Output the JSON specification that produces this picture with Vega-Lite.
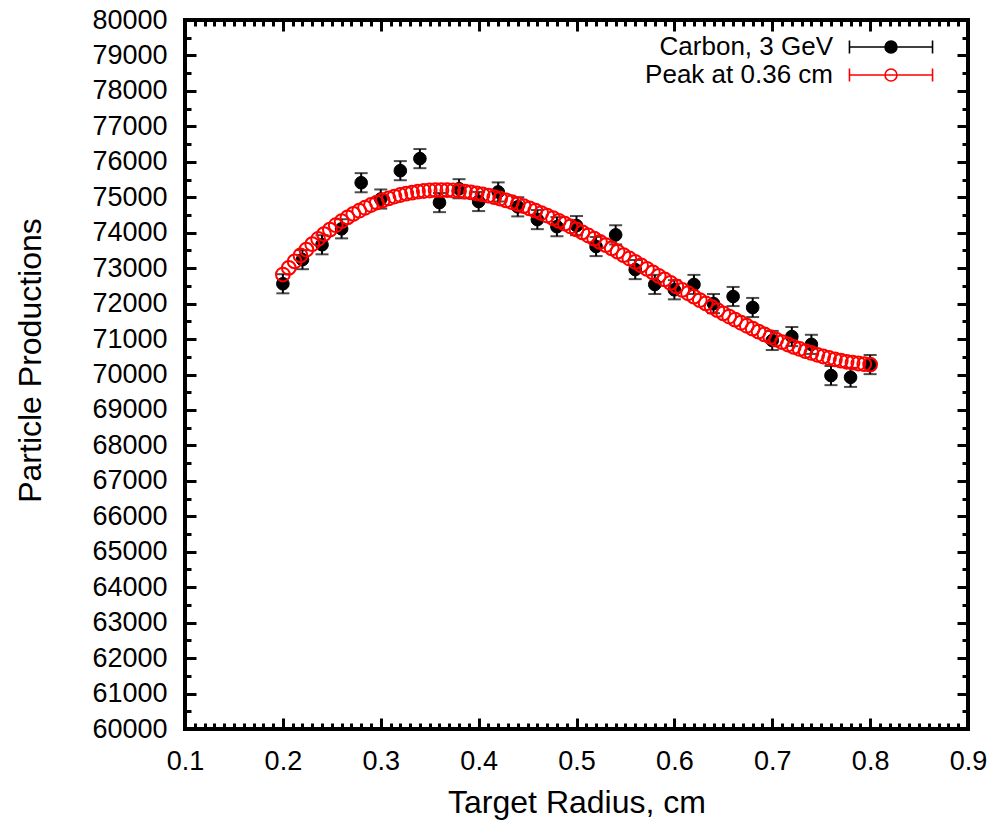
{
  "$schema": "https://vega.github.io/schema/vega-lite/v6.json",
  "width": 783,
  "height": 709,
  "autosize": {"type": "none"},
  "padding": {"left": 185, "top": 20, "right": 39, "bottom": 91},
  "background": "white",
  "config": {
    "view": {"stroke": "black", "strokeWidth": 4},
    "font": "Liberation Sans",
    "axis": {
      "domain": false,
      "grid": false,
      "labelFont": "Liberation Sans",
      "titleFont": "Liberation Sans",
      "labelFontSize": 27,
      "titleFontSize": 32,
      "titleFontWeight": "normal",
      "labelColor": "black",
      "titleColor": "black",
      "tickColor": "black",
      "tickWidth": 3,
      "labelFlush": false,
      "labelOverlap": false,
      "labelBound": false
    },
    "legend": {
      "labelFont": "Liberation Sans",
      "labelFontSize": 26,
      "labelColor": "black",
      "labelLimit": 0
    }
  },
  "datasets": {
    "carbon": [
      {"x": 0.20, "y": 72560, "err": 270, "series": "Carbon, 3 GeV"},
      {"x": 0.22, "y": 73240, "err": 270, "series": "Carbon, 3 GeV"},
      {"x": 0.24, "y": 73660, "err": 270, "series": "Carbon, 3 GeV"},
      {"x": 0.26, "y": 74110, "err": 270, "series": "Carbon, 3 GeV"},
      {"x": 0.28, "y": 75410, "err": 270, "series": "Carbon, 3 GeV"},
      {"x": 0.30, "y": 74950, "err": 270, "series": "Carbon, 3 GeV"},
      {"x": 0.32, "y": 75750, "err": 270, "series": "Carbon, 3 GeV"},
      {"x": 0.34, "y": 76090, "err": 270, "series": "Carbon, 3 GeV"},
      {"x": 0.36, "y": 74850, "err": 270, "series": "Carbon, 3 GeV"},
      {"x": 0.38, "y": 75240, "err": 270, "series": "Carbon, 3 GeV"},
      {"x": 0.40, "y": 74880, "err": 270, "series": "Carbon, 3 GeV"},
      {"x": 0.42, "y": 75150, "err": 270, "series": "Carbon, 3 GeV"},
      {"x": 0.44, "y": 74730, "err": 270, "series": "Carbon, 3 GeV"},
      {"x": 0.46, "y": 74370, "err": 270, "series": "Carbon, 3 GeV"},
      {"x": 0.48, "y": 74170, "err": 270, "series": "Carbon, 3 GeV"},
      {"x": 0.50, "y": 74200, "err": 270, "series": "Carbon, 3 GeV"},
      {"x": 0.52, "y": 73610, "err": 270, "series": "Carbon, 3 GeV"},
      {"x": 0.54, "y": 73940, "err": 270, "series": "Carbon, 3 GeV"},
      {"x": 0.56, "y": 72960, "err": 270, "series": "Carbon, 3 GeV"},
      {"x": 0.58, "y": 72540, "err": 270, "series": "Carbon, 3 GeV"},
      {"x": 0.60, "y": 72390, "err": 270, "series": "Carbon, 3 GeV"},
      {"x": 0.62, "y": 72540, "err": 270, "series": "Carbon, 3 GeV"},
      {"x": 0.64, "y": 72000, "err": 270, "series": "Carbon, 3 GeV"},
      {"x": 0.66, "y": 72200, "err": 270, "series": "Carbon, 3 GeV"},
      {"x": 0.68, "y": 71890, "err": 270, "series": "Carbon, 3 GeV"},
      {"x": 0.70, "y": 70960, "err": 270, "series": "Carbon, 3 GeV"},
      {"x": 0.72, "y": 71070, "err": 270, "series": "Carbon, 3 GeV"},
      {"x": 0.74, "y": 70850, "err": 270, "series": "Carbon, 3 GeV"},
      {"x": 0.76, "y": 69970, "err": 270, "series": "Carbon, 3 GeV"},
      {"x": 0.78, "y": 69920, "err": 270, "series": "Carbon, 3 GeV"},
      {"x": 0.80, "y": 70280, "err": 270, "series": "Carbon, 3 GeV"}
    ],
    "fit": [
      {"x": 0.2, "y": 72820, "series": "Peak at 0.36 cm"},
      {"x": 0.206, "y": 73009, "series": "Peak at 0.36 cm"},
      {"x": 0.212, "y": 73189, "series": "Peak at 0.36 cm"},
      {"x": 0.218, "y": 73360, "series": "Peak at 0.36 cm"},
      {"x": 0.224, "y": 73523, "series": "Peak at 0.36 cm"},
      {"x": 0.23, "y": 73677, "series": "Peak at 0.36 cm"},
      {"x": 0.236, "y": 73822, "series": "Peak at 0.36 cm"},
      {"x": 0.242, "y": 73960, "series": "Peak at 0.36 cm"},
      {"x": 0.248, "y": 74089, "series": "Peak at 0.36 cm"},
      {"x": 0.254, "y": 74211, "series": "Peak at 0.36 cm"},
      {"x": 0.26, "y": 74324, "series": "Peak at 0.36 cm"},
      {"x": 0.266, "y": 74430, "series": "Peak at 0.36 cm"},
      {"x": 0.272, "y": 74529, "series": "Peak at 0.36 cm"},
      {"x": 0.278, "y": 74620, "series": "Peak at 0.36 cm"},
      {"x": 0.284, "y": 74704, "series": "Peak at 0.36 cm"},
      {"x": 0.29, "y": 74781, "series": "Peak at 0.36 cm"},
      {"x": 0.296, "y": 74851, "series": "Peak at 0.36 cm"},
      {"x": 0.302, "y": 74913, "series": "Peak at 0.36 cm"},
      {"x": 0.308, "y": 74970, "series": "Peak at 0.36 cm"},
      {"x": 0.314, "y": 75020, "series": "Peak at 0.36 cm"},
      {"x": 0.32, "y": 75063, "series": "Peak at 0.36 cm"},
      {"x": 0.326, "y": 75100, "series": "Peak at 0.36 cm"},
      {"x": 0.332, "y": 75132, "series": "Peak at 0.36 cm"},
      {"x": 0.338, "y": 75157, "series": "Peak at 0.36 cm"},
      {"x": 0.344, "y": 75176, "series": "Peak at 0.36 cm"},
      {"x": 0.35, "y": 75190, "series": "Peak at 0.36 cm"},
      {"x": 0.356, "y": 75198, "series": "Peak at 0.36 cm"},
      {"x": 0.362, "y": 75200, "series": "Peak at 0.36 cm"},
      {"x": 0.368, "y": 75198, "series": "Peak at 0.36 cm"},
      {"x": 0.374, "y": 75190, "series": "Peak at 0.36 cm"},
      {"x": 0.38, "y": 75177, "series": "Peak at 0.36 cm"},
      {"x": 0.386, "y": 75160, "series": "Peak at 0.36 cm"},
      {"x": 0.392, "y": 75138, "series": "Peak at 0.36 cm"},
      {"x": 0.398, "y": 75111, "series": "Peak at 0.36 cm"},
      {"x": 0.404, "y": 75079, "series": "Peak at 0.36 cm"},
      {"x": 0.41, "y": 75044, "series": "Peak at 0.36 cm"},
      {"x": 0.416, "y": 75004, "series": "Peak at 0.36 cm"},
      {"x": 0.422, "y": 74961, "series": "Peak at 0.36 cm"},
      {"x": 0.428, "y": 74913, "series": "Peak at 0.36 cm"},
      {"x": 0.434, "y": 74862, "series": "Peak at 0.36 cm"},
      {"x": 0.44, "y": 74807, "series": "Peak at 0.36 cm"},
      {"x": 0.446, "y": 74749, "series": "Peak at 0.36 cm"},
      {"x": 0.452, "y": 74687, "series": "Peak at 0.36 cm"},
      {"x": 0.458, "y": 74623, "series": "Peak at 0.36 cm"},
      {"x": 0.464, "y": 74555, "series": "Peak at 0.36 cm"},
      {"x": 0.47, "y": 74484, "series": "Peak at 0.36 cm"},
      {"x": 0.476, "y": 74411, "series": "Peak at 0.36 cm"},
      {"x": 0.482, "y": 74335, "series": "Peak at 0.36 cm"},
      {"x": 0.488, "y": 74257, "series": "Peak at 0.36 cm"},
      {"x": 0.494, "y": 74176, "series": "Peak at 0.36 cm"},
      {"x": 0.5, "y": 74093, "series": "Peak at 0.36 cm"},
      {"x": 0.506, "y": 74008, "series": "Peak at 0.36 cm"},
      {"x": 0.512, "y": 73921, "series": "Peak at 0.36 cm"},
      {"x": 0.518, "y": 73833, "series": "Peak at 0.36 cm"},
      {"x": 0.524, "y": 73742, "series": "Peak at 0.36 cm"},
      {"x": 0.53, "y": 73651, "series": "Peak at 0.36 cm"},
      {"x": 0.536, "y": 73558, "series": "Peak at 0.36 cm"},
      {"x": 0.542, "y": 73464, "series": "Peak at 0.36 cm"},
      {"x": 0.548, "y": 73368, "series": "Peak at 0.36 cm"},
      {"x": 0.554, "y": 73272, "series": "Peak at 0.36 cm"},
      {"x": 0.56, "y": 73175, "series": "Peak at 0.36 cm"},
      {"x": 0.566, "y": 73078, "series": "Peak at 0.36 cm"},
      {"x": 0.572, "y": 72980, "series": "Peak at 0.36 cm"},
      {"x": 0.578, "y": 72881, "series": "Peak at 0.36 cm"},
      {"x": 0.584, "y": 72783, "series": "Peak at 0.36 cm"},
      {"x": 0.59, "y": 72684, "series": "Peak at 0.36 cm"},
      {"x": 0.596, "y": 72586, "series": "Peak at 0.36 cm"},
      {"x": 0.602, "y": 72487, "series": "Peak at 0.36 cm"},
      {"x": 0.608, "y": 72389, "series": "Peak at 0.36 cm"},
      {"x": 0.614, "y": 72292, "series": "Peak at 0.36 cm"},
      {"x": 0.62, "y": 72195, "series": "Peak at 0.36 cm"},
      {"x": 0.626, "y": 72099, "series": "Peak at 0.36 cm"},
      {"x": 0.632, "y": 72004, "series": "Peak at 0.36 cm"},
      {"x": 0.638, "y": 71909, "series": "Peak at 0.36 cm"},
      {"x": 0.644, "y": 71816, "series": "Peak at 0.36 cm"},
      {"x": 0.65, "y": 71725, "series": "Peak at 0.36 cm"},
      {"x": 0.656, "y": 71635, "series": "Peak at 0.36 cm"},
      {"x": 0.662, "y": 71546, "series": "Peak at 0.36 cm"},
      {"x": 0.668, "y": 71460, "series": "Peak at 0.36 cm"},
      {"x": 0.674, "y": 71375, "series": "Peak at 0.36 cm"},
      {"x": 0.68, "y": 71292, "series": "Peak at 0.36 cm"},
      {"x": 0.686, "y": 71211, "series": "Peak at 0.36 cm"},
      {"x": 0.692, "y": 71133, "series": "Peak at 0.36 cm"},
      {"x": 0.698, "y": 71057, "series": "Peak at 0.36 cm"},
      {"x": 0.704, "y": 70984, "series": "Peak at 0.36 cm"},
      {"x": 0.71, "y": 70913, "series": "Peak at 0.36 cm"},
      {"x": 0.716, "y": 70846, "series": "Peak at 0.36 cm"},
      {"x": 0.722, "y": 70781, "series": "Peak at 0.36 cm"},
      {"x": 0.728, "y": 70720, "series": "Peak at 0.36 cm"},
      {"x": 0.734, "y": 70661, "series": "Peak at 0.36 cm"},
      {"x": 0.74, "y": 70607, "series": "Peak at 0.36 cm"},
      {"x": 0.746, "y": 70556, "series": "Peak at 0.36 cm"},
      {"x": 0.752, "y": 70508, "series": "Peak at 0.36 cm"},
      {"x": 0.758, "y": 70465, "series": "Peak at 0.36 cm"},
      {"x": 0.764, "y": 70425, "series": "Peak at 0.36 cm"},
      {"x": 0.77, "y": 70390, "series": "Peak at 0.36 cm"},
      {"x": 0.776, "y": 70359, "series": "Peak at 0.36 cm"},
      {"x": 0.782, "y": 70332, "series": "Peak at 0.36 cm"},
      {"x": 0.788, "y": 70310, "series": "Peak at 0.36 cm"},
      {"x": 0.794, "y": 70293, "series": "Peak at 0.36 cm"},
      {"x": 0.8, "y": 70280, "series": "Peak at 0.36 cm"}
    ]
  },
  "layer": [
    {
      "layer": [
        {
          "data": {"name": "carbon"},
          "mark": {"type": "errorbar", "color": "black", "thickness": 2, "ticks": {"size": 13, "thickness": 2}},
          "encoding": {
            "x": {
              "field": "x", "type": "quantitative", "title": "Target Radius, cm",
              "scale": {"domain": [0.1, 0.9], "nice": false, "zero": false},
              "axis": {
                "orient": "bottom",
                "values": [0.1,0.11,0.12,0.13,0.14,0.15,0.16,0.17,0.18,0.19,0.2,0.21,0.22,0.23,0.24,0.25,0.26,0.27,0.28,0.29,0.3,0.31,0.32,0.33,0.34,0.35,0.36,0.37,0.38,0.39,0.4,0.41,0.42,0.43,0.44,0.45,0.46,0.47,0.48,0.49,0.5,0.51,0.52,0.53,0.54,0.55,0.56,0.57,0.58,0.59,0.6,0.61,0.62,0.63,0.64,0.65,0.66,0.67,0.68,0.69,0.7,0.71,0.72,0.73,0.74,0.75,0.76,0.77,0.78,0.79,0.8,0.81,0.82,0.83,0.84,0.85,0.86,0.87,0.88,0.89,0.9],
                "format": ".1f",
                "labelExpr": "abs(datum.value*10-round(datum.value*10))<0.000001 ? datum.label : ''",
                "labelOverlap": false,
                "labelFlush": false,
                "tickSize": {"condition": {"test": "abs(datum.value*10-round(datum.value*10))<0.000001", "value": -11}, "value": -6},
                "labelPadding": 30,
                "titlePadding": 8
              }
            },
            "y": {
              "field": "y", "type": "quantitative", "title": "Particle Productions",
              "scale": {"domain": [60000, 80000], "nice": false, "zero": false},
              "axis": {
                "orient": "left",
                "values": [60000,60500,61000,61500,62000,62500,63000,63500,64000,64500,65000,65500,66000,66500,67000,67500,68000,68500,69000,69500,70000,70500,71000,71500,72000,72500,73000,73500,74000,74500,75000,75500,76000,76500,77000,77500,78000,78500,79000,79500,80000],
                "format": "d",
                "labelExpr": "datum.value % 1000 == 0 ? datum.label : ''",
                "labelOverlap": false,
                "labelFlush": false,
                "tickSize": {"condition": {"test": "datum.value % 1000 == 0", "value": -11}, "value": -6},
                "labelPadding": 29,
                "titlePadding": 44,
                "titleY": 340
              }
            },
            "yError": {"field": "err"}
          }
        },
        {
          "data": {"name": "carbon"},
          "mark": {"type": "point", "filled": true, "size": 160, "opacity": 1, "strokeWidth": 1},
          "encoding": {
            "x": {
              "field": "x", "type": "quantitative", "title": "Target Radius, cm",
              "scale": {"domain": [0.1, 0.9], "nice": false, "zero": false},
              "axis": {
                "orient": "bottom",
                "values": [0.1,0.11,0.12,0.13,0.14,0.15,0.16,0.17,0.18,0.19,0.2,0.21,0.22,0.23,0.24,0.25,0.26,0.27,0.28,0.29,0.3,0.31,0.32,0.33,0.34,0.35,0.36,0.37,0.38,0.39,0.4,0.41,0.42,0.43,0.44,0.45,0.46,0.47,0.48,0.49,0.5,0.51,0.52,0.53,0.54,0.55,0.56,0.57,0.58,0.59,0.6,0.61,0.62,0.63,0.64,0.65,0.66,0.67,0.68,0.69,0.7,0.71,0.72,0.73,0.74,0.75,0.76,0.77,0.78,0.79,0.8,0.81,0.82,0.83,0.84,0.85,0.86,0.87,0.88,0.89,0.9],
                "format": ".1f",
                "labelExpr": "abs(datum.value*10-round(datum.value*10))<0.000001 ? datum.label : ''",
                "labelOverlap": false,
                "labelFlush": false,
                "tickSize": {"condition": {"test": "abs(datum.value*10-round(datum.value*10))<0.000001", "value": -11}, "value": -6},
                "labelPadding": 30,
                "titlePadding": 8
              }
            },
            "y": {
              "field": "y", "type": "quantitative", "title": "Particle Productions",
              "scale": {"domain": [60000, 80000], "nice": false, "zero": false},
              "axis": {
                "orient": "left",
                "values": [60000,60500,61000,61500,62000,62500,63000,63500,64000,64500,65000,65500,66000,66500,67000,67500,68000,68500,69000,69500,70000,70500,71000,71500,72000,72500,73000,73500,74000,74500,75000,75500,76000,76500,77000,77500,78000,78500,79000,79500,80000],
                "format": "d",
                "labelExpr": "datum.value % 1000 == 0 ? datum.label : ''",
                "labelOverlap": false,
                "labelFlush": false,
                "tickSize": {"condition": {"test": "datum.value % 1000 == 0", "value": -11}, "value": -6},
                "labelPadding": 29,
                "titlePadding": 44,
                "titleY": 340
              }
            },
            "fill": {
              "field": "series", "type": "nominal",
              "scale": {"domain": ["Carbon, 3 GeV", "Peak at 0.36 cm"], "range": ["black", "white"]},
              "legend": {
                "orient": "none",
                "legendX": 693,
                "legendY": 14,
                "title": null,
                "padding": 0,
                "symbolType": "M-5,-0.78V0.78M-5,0H5M5,-0.78V0.78M0.72,0A0.72,0.72 0 1 1 -0.72,0A0.72,0.72 0 1 1 0.72,0Z",
                "symbolSize": 276,
                "symbolStrokeWidth": 1.6,
                "labelAlign": "right",
                "labelOffset": -71,
                "rowPadding": 2
              }
            },
            "stroke": {
              "field": "series", "type": "nominal",
              "scale": {"domain": ["Carbon, 3 GeV", "Peak at 0.36 cm"], "range": ["black", "#ff0000"]},
              "legend": {
                "orient": "none",
                "legendX": 693,
                "legendY": 14,
                "title": null,
                "padding": 0,
                "symbolType": "M-5,-0.78V0.78M-5,0H5M5,-0.78V0.78M0.72,0A0.72,0.72 0 1 1 -0.72,0A0.72,0.72 0 1 1 0.72,0Z",
                "symbolSize": 276,
                "symbolStrokeWidth": 1.6,
                "labelAlign": "right",
                "labelOffset": -71,
                "rowPadding": 2
              }
            }
          }
        }
      ]
    },
    {
      "data": {"name": "fit"},
      "mark": {"type": "point", "filled": false, "size": 190, "strokeWidth": 2, "opacity": 1},
      "encoding": {
        "x": {
          "field": "x", "type": "quantitative",
          "scale": {"domain": [0.1, 0.9], "nice": false, "zero": false},
          "axis": {
            "orient": "top",
            "values": [0.1,0.11,0.12,0.13,0.14,0.15,0.16,0.17,0.18,0.19,0.2,0.21,0.22,0.23,0.24,0.25,0.26,0.27,0.28,0.29,0.3,0.31,0.32,0.33,0.34,0.35,0.36,0.37,0.38,0.39,0.4,0.41,0.42,0.43,0.44,0.45,0.46,0.47,0.48,0.49,0.5,0.51,0.52,0.53,0.54,0.55,0.56,0.57,0.58,0.59,0.6,0.61,0.62,0.63,0.64,0.65,0.66,0.67,0.68,0.69,0.7,0.71,0.72,0.73,0.74,0.75,0.76,0.77,0.78,0.79,0.8,0.81,0.82,0.83,0.84,0.85,0.86,0.87,0.88,0.89,0.9],
            "labels": false,
            "title": null,
            "tickSize": {"condition": {"test": "abs(datum.value*10-round(datum.value*10))<0.000001", "value": -11}, "value": -6}
          }
        },
        "y": {
          "field": "y", "type": "quantitative",
          "scale": {"domain": [60000, 80000], "nice": false, "zero": false},
          "axis": {
            "orient": "right",
            "values": [60000,60500,61000,61500,62000,62500,63000,63500,64000,64500,65000,65500,66000,66500,67000,67500,68000,68500,69000,69500,70000,70500,71000,71500,72000,72500,73000,73500,74000,74500,75000,75500,76000,76500,77000,77500,78000,78500,79000,79500,80000],
            "labels": false,
            "title": null,
            "tickSize": {"condition": {"test": "datum.value % 1000 == 0", "value": -11}, "value": -6}
          }
        },
        "stroke": {"field": "series", "type": "nominal"}
      }
    }
  ],
  "resolve": {"axis": {"x": "independent", "y": "independent"}}
}
